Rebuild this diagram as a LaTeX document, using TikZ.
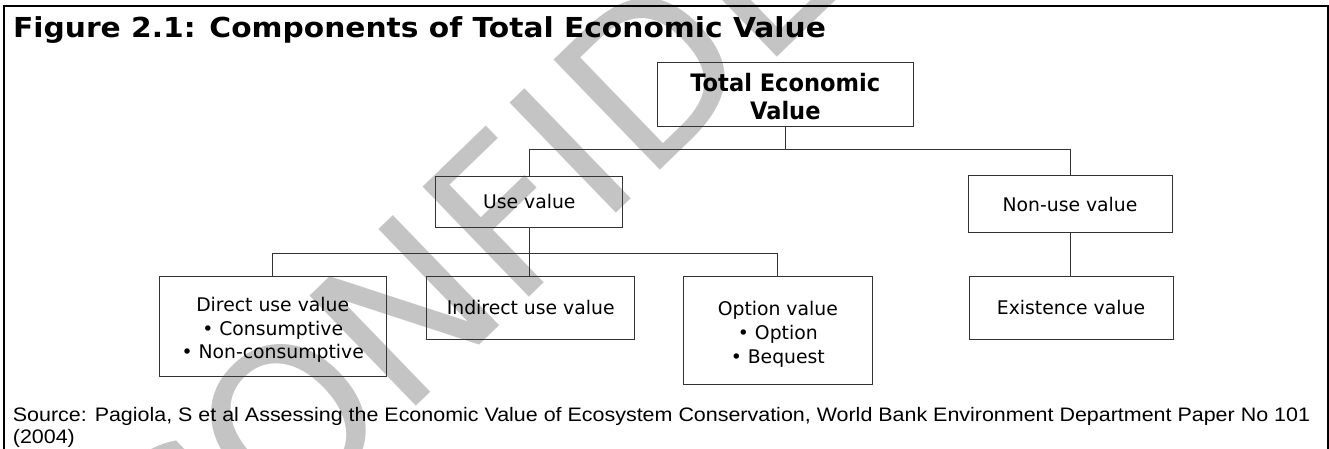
\documentclass[tikz,border=0pt]{standalone}
\usepackage{fontspec}
\setmainfont{DejaVu Sans}
\newfontfamily\srcfont[FakeStretch=1.1]{Liberation Sans}
\newfontfamily\titlefont[FakeStretch=1.08]{DejaVu Sans Bold}
\newfontfamily\tevfont[FakeStretch=0.94]{DejaVu Sans Bold}
\newfontfamily\wmfont{DejaVu Sans}
\newcommand{\lowr}{\rule{0pt}{22pt}}
\begin{document}
\begin{tikzpicture}[x=1pt,y=-1pt,
  box/.style={draw=black!80,line width=1pt,inner sep=0pt,align=center,
    font=\fontsize{18.8}{23.8}\selectfont},
  boldbox/.style={box,font=\fontsize{24}{28.3}\tevfont},
  conn/.style={draw=black!80,line width=1pt}]
\useasboundingbox (0,0) rectangle (1329,448);
\begin{scope}
\clip (0,0) rectangle (1329,448);
\node[rotate=44,text=black!23,font=\fontsize{210}{210}\wmfont,inner sep=0pt] (wm) at (683,42) {CONFIDENTIAL};
\draw[line width=2pt] (4.3,5.7) rectangle (1328,470);
\end{scope}
\node[anchor=base west,inner sep=0pt,font=\fontsize{27.5}{30}\titlefont] (title) at (13,37) {Figure 2.1: Components of Total Economic Value};
\node[boldbox,minimum width=256,minimum height=64] (tev) at (785.3,94.7) {\rule{0pt}{22pt}Total Economic\\Value};
\node[box,minimum width=186.7,minimum height=51.3] (use) at (529.3,201.7) {Use value};
\node[box,minimum width=204,minimum height=57] (nonuse) at (1070,204.2) {Non-use value};
\node[box,minimum width=226.7,minimum height=100] (direct) at (272.7,326) {\lowr Direct use value\\• Consumptive\\• Non-consumptive};
\node[box,minimum width=208,minimum height=63.3] (indirect) at (530.7,307.7) {Indirect use value};
\node[box,minimum width=189,minimum height=108.3] (option) at (777.8,330.2) {\lowr Option value\\• Option\\• Bequest};
\node[box,minimum width=204,minimum height=63] (exist) at (1071,307.5) {Existence value};
\draw[conn] (tev.south) -- ++(0,22.6) -| (use.north);
\draw[conn] (tev.south) -- ++(0,22.6) -| (nonuse.north);
\draw[conn] (use.south) -- (use.south |- indirect.north);
\draw[conn] (use.south) -- ++(0,25.7) -| (direct.north);
\draw[conn] (use.south) -- ++(0,25.7) -| (option.north);
\draw[conn] (nonuse.south) -- (nonuse.south |- exist.north);
\node[anchor=base west,inner sep=0pt,font=\fontsize{19.5}{23}\srcfont] (src1) at (12.7,421) {Source: Pagiola, S et al Assessing the Economic Value of Ecosystem Conservation, World Bank Environment Department Paper No 101};
\node[anchor=base west,inner sep=0pt,font=\fontsize{19.5}{23}\srcfont] (src2) at (12.7,443.5) {(2004)};
\end{tikzpicture}
\end{document}
